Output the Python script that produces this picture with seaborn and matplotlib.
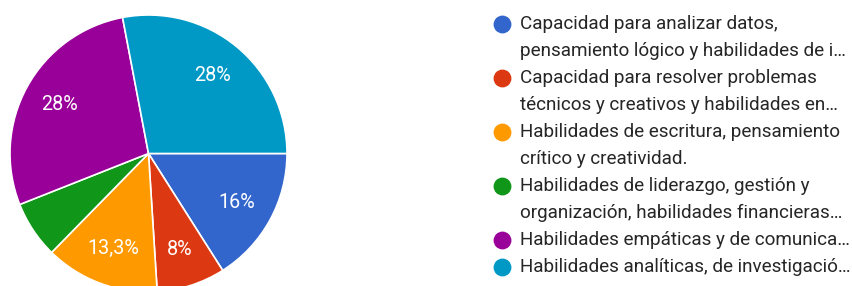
import matplotlib
matplotlib.use("Agg")
import matplotlib.pyplot as plt
import seaborn as sns

# Responses per option (n = 75)
labels = [
    "Capacidad para analizar datos,\npensamiento lógico y habilidades de i…",
    "Capacidad para resolver problemas\ntécnicos y creativos y habilidades en…",
    "Habilidades de escritura, pensamiento\ncrítico y creatividad.",
    "Habilidades de liderazgo, gestión y\norganización, habilidades financieras…",
    "Habilidades empáticas y de comunica…",
    "Habilidades analíticas, de investigació…",
]
counts = [12, 6, 10, 5, 21, 21]
colors = ["#3366CC", "#DC3912", "#FF9900", "#109618", "#990099", "#0099C6"]

W, H = 853, 286
FONT = "Roboto"

sns.set_style("white")
plt.rcParams["font.family"] = [FONT, "DejaVu Sans"]

fig = plt.figure(figsize=(W / 100, H / 100), dpi=100)

# --- Pie -------------------------------------------------------------------
cx, cy, r = 148.5, 153.5, 138.5
ax = fig.add_axes([(cx - r) / W, (H - cy - r) / H, 2 * r / W, 2 * r / H])


def _fmt(pct):
    # Google Forms hides labels of small slices and uses a decimal comma
    if pct < 7:
        return ""
    s = f"{pct:.1f}".rstrip("0").rstrip(".").replace(".", ",")
    return s + "%"


wedges, _, autotexts = ax.pie(
    counts,
    colors=sns.color_palette(colors),
    startangle=0,
    counterclock=False,
    autopct=_fmt,
    pctdistance=0.73,
    wedgeprops=dict(edgecolor="white", linewidth=1.2),
    textprops=dict(color="white", fontsize=14.2),
)
ax.set_xlim(-1, 1)
ax.set_ylim(-1, 1)
ax.axis("off")

# --- Legend ----------------------------------------------------------------
lax = fig.add_axes([0, 0, 1, 1])
lax.set_xlim(0, W)
lax.set_ylim(H, 0)
lax.axis("off")

row = 0
y0, step = 24, 27
for lab, col in zip(labels, colors):
    lines = lab.split("\n")
    lax.scatter([502], [y0 + row * step], s=165, color=col, linewidths=0)
    for ln in lines:
        lax.text(520, y0 + row * step, ln, va="center", ha="left",
                 fontsize=13.6, color="#262626")
        row += 1

fig.savefig("out.png", dpi=100)
